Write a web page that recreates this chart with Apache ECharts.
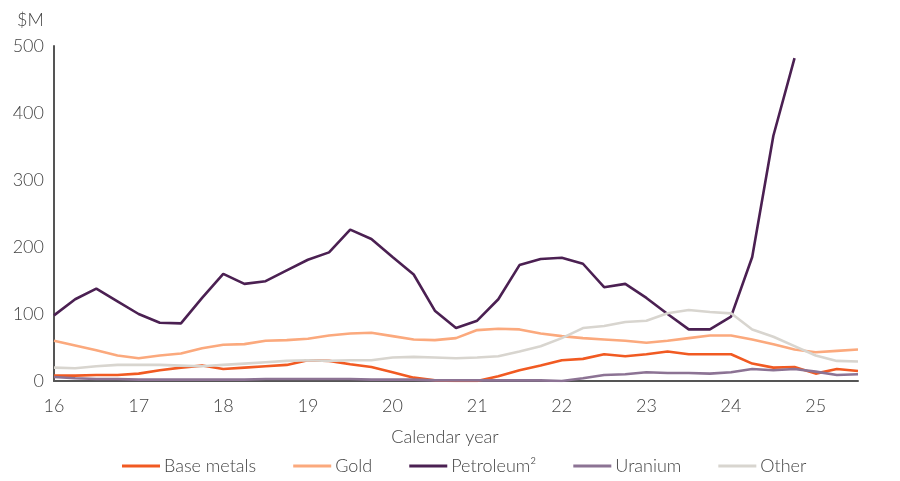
<!DOCTYPE html>
<html>
<head>
<meta charset="utf-8">
<script src="https://cdn.jsdelivr.net/npm/echarts@6/dist/echarts.min.js"></script>
<style>
    html, body { margin: 0; padding: 0; background: #fff; }
    #chart { width: 900px; height: 481px; }
</style>
</head>
<body>
<div id="chart"></div>
<script>
// quarterly points, 2016 Q1 to 2025 Q3
const quarters = [
    'Mar-16', 'Jun-16', 'Sep-16', 'Dec-16', 'Mar-17', 'Jun-17', 'Sep-17', 'Dec-17',
    'Mar-18', 'Jun-18', 'Sep-18', 'Dec-18', 'Mar-19', 'Jun-19', 'Sep-19', 'Dec-19',
    'Mar-20', 'Jun-20', 'Sep-20', 'Dec-20', 'Mar-21', 'Jun-21', 'Sep-21', 'Dec-21',
    'Mar-22', 'Jun-22', 'Sep-22', 'Dec-22', 'Mar-23', 'Jun-23', 'Sep-23', 'Dec-23',
    'Mar-24', 'Jun-24', 'Sep-24', 'Dec-24', 'Mar-25', 'Jun-25', 'Sep-25'
]
const baseMetals = [8, 8, 9, 9, 11, 16, 20, 23, 18, 20, 22, 24, 31, 30, 25, 21, 13, 5, 1, 0,
    0, 7, 16, 23, 31, 33, 40, 37, 40, 44, 40, 40, 40, 26, 20, 21, 11, 18, 15]
const gold = [60, 53, 46, 38, 34, 38, 41, 49, 54, 55, 60, 61, 63, 68, 71, 72, 67, 62, 61, 64,
    76, 78, 77, 71, 67, 64, 62, 60, 57, 60, 64, 68, 68, 62, 55, 47, 43, 45, 47]
const petroleum = [98, 122, 138, 119, 100, 87, 86, 124, 160, 145, 149, 165, 181, 192, 226, 212, 185, 159, 105, 79,
    90, 122, 173, 182, 184, 175, 140, 145, 124, 100, 77, 77, 96, 185, 366, 482]
const uranium = [6, 4, 3, 3, 2, 2, 2, 2, 2, 2, 3, 3, 3, 3, 3, 2, 2, 2, 1, 1,
    1, 1, 1, 1, 0, 4, 9, 10, 13, 12, 12, 11, 13, 18, 16, 18, 14, 9, 10]
const other = [20, 19, 22, 24, 24, 24, 23, 22, 24, 26, 28, 30, 31, 30, 31, 31, 35, 36, 35, 34,
    35, 37, 44, 52, 64, 79, 82, 88, 90, 101, 106, 103, 101, 77, 66, 52, 38, 30, 29]

const font = 'Lato'
const textColor = '#444444'
const axisColor = '#555555'

let myChart = echarts.init(document.getElementById('chart'))

function lineSeries(name, data, color) {
    return {
        name: name,
        type: 'line',
        data: data,
        symbol: 'none',
        lineStyle: { color: color, width: 2.6 },
        itemStyle: { color: color }
    }
}

let option = {
    animation: false,
    title: {
        text: '$M',
        left: 12,
        top: 6,
        textStyle: { color: textColor, fontSize: 18, fontWeight: 300, fontFamily: font }
    },
    legend: {
        left: 117,
        top: 452,
        icon: 'rect',
        itemWidth: 38,
        itemHeight: 3,
        itemGap: 37,
        textStyle: { color: textColor, fontSize: 18, fontWeight: 300, fontFamily: font, padding: [0, 0, 0, -1] },
        data: ['Base metals', 'Gold', 'Petroleum²', 'Uranium', 'Other']
    },
    grid: {
        left: 54,
        right: 42,
        top: 46,
        bottom: 100,
        containLabel: false
    },
    xAxis: {
        type: 'category',
        boundaryGap: false,
        data: quarters,
        name: 'Calendar year',
        nameLocation: 'middle',
        nameGap: 47,
        nameTextStyle: { color: textColor, fontSize: 18, fontWeight: 300, fontFamily: font, padding: [0, 22, 0, 0] },
        axisLine: { lineStyle: { color: axisColor, width: 2 } },
        axisTick: { show: false },
        axisLabel: {
            interval: 3,
            margin: 16,
            color: textColor,
            fontSize: 18,
            fontWeight: 300,
            fontFamily: font,
            formatter: (v) => v.slice(-2)
        },
        splitLine: { show: false }
    },
    yAxis: {
        type: 'value',
        min: 0,
        max: 500,
        interval: 100,
        axisLine: { show: true, lineStyle: { color: axisColor, width: 2 } },
        axisTick: { show: false },
        axisLabel: { margin: 10, color: textColor, fontSize: 18, fontWeight: 300, fontFamily: font },
        splitLine: { show: false }
    },
    series: [
        lineSeries('Base metals', baseMetals, '#F15A22'),
        lineSeries('Gold', gold, '#FBA97D'),
        lineSeries('Petroleum²', petroleum, '#4B2052'),
        lineSeries('Uranium', uranium, '#8C7394'),
        lineSeries('Other', other, '#D8D5CF')
    ]
}

option && myChart.setOption(option)
</script>
</body>
</html>
